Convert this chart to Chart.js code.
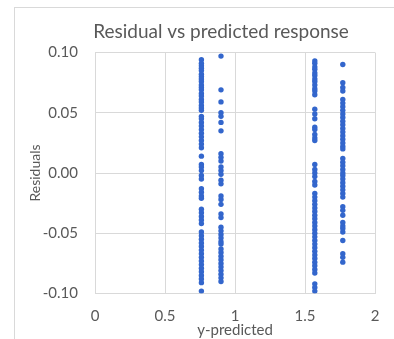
<!DOCTYPE html>
<html>
<head>
<meta charset="utf-8">
<script src="https://cdn.jsdelivr.net/npm/chart.js@4.4.1/dist/chart.umd.min.js"></script>
<style>
  html, body { margin: 0; padding: 0; background: #fff; }
  #wrap { position: relative; width: 394px; height: 339px; }
  #frame {
    position: absolute; left: 14px; top: 7px; right: 0; bottom: 0;
    border-left: 1px solid #d9d9d9; border-top: 1px solid #d9d9d9;
  }
  canvas { position: absolute; left: 0; top: 0; }
</style>
</head>
<body>
<div id="wrap">
  <div id="frame"></div>
  <canvas id="chart" width="394" height="339"></canvas>
</div>
<script>
// predicted response of each vertical band
const predicted = [0.76, 0.90, 1.57, 1.77];

// residuals, top to bottom
const residualsA = [
  0.094, 0.091, 0.089, 0.087, 0.085, 0.082, 0.080, 0.078, 0.076, 0.073,
  0.071, 0.069, 0.066, 0.064, 0.061, 0.059, 0.056, 0.054, 0.052, 0.047,
  0.045, 0.042, 0.039, 0.036, 0.033, 0.030, 0.027, 0.024, 0.021, 0.014,
  0.007, 0.005, 0.002, -0.002, -0.005, -0.013, -0.016, -0.019, -0.021, -0.030,
  -0.033, -0.036, -0.039, -0.042, -0.049, -0.052, -0.055, -0.058, -0.061, -0.064,
  -0.067, -0.070, -0.073, -0.076, -0.079, -0.082, -0.085, -0.088, -0.091, -0.098
];
const residualsB = [
  0.097, 0.069, 0.059, 0.050, 0.047, 0.042, 0.035, 0.016, 0.013, 0.010,
  0.005, 0.002, -0.001, -0.006, -0.009, -0.019, -0.022, -0.026, -0.034, -0.037,
  -0.045, -0.048, -0.051, -0.054, -0.057, -0.059, -0.063, -0.066, -0.069, -0.072,
  -0.075, -0.078, -0.081, -0.084, -0.087, -0.090
];
const residualsC = [
  0.093, 0.091, 0.088, 0.086, 0.083, 0.081, 0.078, 0.076, 0.073, 0.070,
  0.068, 0.065, 0.053, 0.049, 0.045, 0.038, 0.036, 0.032, 0.029, 0.027,
  0.007, 0.003, 0.000, -0.003, -0.007, -0.010, -0.017, -0.020, -0.023, -0.026,
  -0.029, -0.032, -0.035, -0.038, -0.041, -0.044, -0.047, -0.050, -0.053, -0.056,
  -0.059, -0.062, -0.065, -0.068, -0.071, -0.074, -0.077, -0.080, -0.083, -0.092,
  -0.095, -0.098
];
const residualsD = [
  0.090, 0.075, 0.071, 0.068, 0.061, 0.058, 0.055, 0.052, 0.049, 0.046,
  0.043, 0.040, 0.037, 0.034, 0.031, 0.028, 0.025, 0.022, 0.020, 0.012,
  0.009, 0.006, 0.003, 0.000, -0.002, -0.005, -0.008, -0.011, -0.014, -0.017,
  -0.020, -0.028, -0.031, -0.035, -0.041, -0.044, -0.046, -0.049, -0.056, -0.067,
  -0.070, -0.074
];

const xTicks = [0, 0.5, 1, 1.5, 2];
const yTicks = [-0.10, -0.05, 0.00, 0.05, 0.10];

const bands = [residualsA, residualsB, residualsC, residualsD];
const points = [];
bands.forEach((list, i) => {
  for (const r of list) points.push({ x: predicted[i], y: r });
});

const grey = '#595959';
const gridGrey = '#d9d9d9';
const font = 'Lato, "Open Sans", sans-serif';
const titleText = 'Residual vs predicted response';

// title sits a bit right of centre, as in the source chart
const offsetTitle = {
  id: 'offsetTitle',
  afterDraw(chart) {
    const ctx = chart.ctx;
    ctx.save();
    ctx.font = '19px ' + font;
    ctx.fillStyle = grey;
    ctx.textAlign = 'center';
    ctx.textBaseline = 'middle';
    ctx.fillText(titleText, 221, 32);
    ctx.restore();
  }
};

new Chart(document.getElementById('chart'), {
  type: 'scatter',
  data: {
    datasets: [{
      data: points,
      backgroundColor: '#3366cc',
      borderColor: '#3366cc',
      borderWidth: 0,
      pointRadius: 2.7
    }]
  },
  options: {
    responsive: false,
    animation: false,
    layout: { padding: { left: 0, right: 19, top: 52.5, bottom: 0 } },
    plugins: {
      legend: { display: false },
      tooltip: { enabled: false },
      title: { display: false }
    },
    scales: {
      x: {
        type: 'linear',
        min: 0,
        max: 2,
        afterBuildTicks: axis => { axis.ticks = xTicks.map(v => ({ value: v })); },
        afterFit: axis => { axis.height = 45.5; },
        grid: { color: gridGrey, drawTicks: false },
        border: { display: false },
        ticks: {
          color: grey,
          padding: 14,
          font: { family: font, size: 15 },
          callback: v => String(v)
        },
        title: {
          display: true,
          text: 'y-predicted',
          color: grey,
          font: { family: font, size: 15 },
          padding: { top: 0, bottom: 0 }
        }
      },
      y: {
        type: 'linear',
        min: -0.1,
        max: 0.1,
        afterBuildTicks: axis => { axis.ticks = yTicks.map(v => ({ value: v })); },
        afterFit: axis => { axis.width = 95; },
        grid: { color: gridGrey, drawTicks: false },
        border: { display: false },
        ticks: {
          color: grey,
          padding: 17,
          font: { family: font, size: 15 },
          callback: v => v.toFixed(2)
        },
        title: {
          display: true,
          text: 'Residuals',
          color: grey,
          font: { family: font, size: 14 },
          padding: { top: 27, bottom: 0 }
        }
      }
    }
  },
  plugins: [offsetTitle]
});
</script>
</body>
</html>
